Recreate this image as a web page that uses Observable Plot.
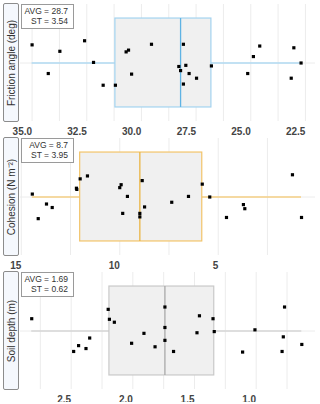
<!DOCTYPE html>
<html><head><meta charset="utf-8">
<script src="https://cdn.jsdelivr.net/npm/d3@7"></script>
<script src="https://cdn.jsdelivr.net/npm/@observablehq/plot@0.6"></script>
<style>
body{margin:0;background:#fff;font-family:"Liberation Sans",Arial,sans-serif;}
.panel{position:relative;width:320px;height:134px;}
.panel svg{display:block;}
.ylab{position:absolute;left:3px;top:3px;width:16px;height:119px;border:1px solid #8c8c8c;border-radius:2px;background:#f5f8fd;box-sizing:border-box;}
.ylab span{position:absolute;left:50%;top:50%;transform:translate(-50%,-50%) rotate(-90deg);white-space:nowrap;font-size:10px;color:#333;}
.stats{position:absolute;left:21px;top:4px;width:53px;height:25px;border:1px solid #9a9a9a;background:#fff;box-sizing:border-box;font-size:8.5px;color:#333;text-align:right;padding:2px 5px 0 0;line-height:9.5px;}
</style></head><body><div id="root"></div>
<script>
// ---- Friction angle (deg)
const frictionValues = [35.00,34.26,33.73,32.60,32.19,31.75,31.19,30.70,30.59,30.45,29.54,28.29,28.21,28.08,28.08,27.97,27.82,27.48,26.80,25.14,24.88,24.59,23.15,23.03,22.70];
const frictionJitter = [-0.31,0.18,-0.20,-0.38,-0.01,0.38,0.38,-0.19,-0.22,0.19,-0.32,0.06,0.13,-0.32,0.36,0.04,0.18,0.26,0.05,0.18,-0.11,-0.29,0.26,-0.26,0.00];
const frictionTicks = [35, 32.5, 30, 27.5, 25, 22.5];
const frictionGrid = [35, 33.75, 32.5, 31.25, 30, 28.75, 27.5, 26.25, 25, 23.75, 22.5];
const frictionDomain = [35.53, 22.04];
const frictionStats = ["AVG = 28.7", "ST = 3.54"];

// ---- Cohesion (N m-2)
const cohesionValues = [14.44,14.14,13.72,13.43,12.20,12.18,12.01,11.64,10.00,9.93,9.85,9.61,8.98,8.98,8.86,8.74,7.36,6.51,5.81,5.43,4.58,3.72,3.65,1.23,0.77];
const cohesionJitter = [-0.05,0.37,0.12,0.18,-0.15,-0.13,-0.31,-0.36,-0.16,-0.21,0.28,-0.01,0.28,0.34,-0.28,0.17,0.09,-0.01,-0.22,0.00,0.35,0.13,0.20,-0.38,0.35];
const cohesionTicks = [15, 10, 5];
const cohesionGrid = [15, 12.5, 10, 7.5, 5, 2.5];
const cohesionDomain = [15.04, 0.06];
const cohesionStats = ["AVG = 8.7", "ST = 3.95"];

// ---- Soil depth (m)
const depthValues = [2.82,2.48,2.44,2.38,2.35,2.20,2.19,2.15,2.01,1.91,1.82,1.74,1.74,1.74,1.67,1.48,1.46,1.35,1.34,1.11,1.01,0.79,0.78,0.77,0.63];
const depthJitter = [-0.21,0.35,0.25,0.30,0.12,-0.37,-0.20,-0.15,0.21,0.04,0.27,-0.41,-0.06,0.16,0.35,0.03,-0.26,-0.21,0.01,0.36,-0.02,0.35,0.10,-0.41,0.23];
const depthTicks = [2.5, 2.0, 1.5, 1.0];
const depthGrid = [2.75, 2.5, 2.25, 2.0, 1.75, 1.5, 1.25, 1.0, 0.75];
const depthDomain = [2.911, 0.519];
const depthStats = ["AVG = 1.69", "ST = 0.62"];

const panels = [
  {title: "Friction angle (deg)", values: frictionValues, jitter: frictionJitter, ticks: frictionTicks, grid: frictionGrid, domain: frictionDomain, stats: frictionStats, fmt: d3.format(".1f"), box: "#a3d3ef", median: "#5fb3e4", whisker: "#b0daf2"},
  {title: "Cohesion (N m\u207B\u00B2)", values: cohesionValues, jitter: cohesionJitter, ticks: cohesionTicks, grid: cohesionGrid, domain: cohesionDomain, stats: cohesionStats, fmt: d3.format("d"), box: "#f2c46a", median: "#ebb645", whisker: "#f5cf84"},
  {title: "Soil depth (m)", values: depthValues, jitter: depthJitter, ticks: depthTicks, grid: depthGrid, domain: depthDomain, stats: depthStats, fmt: d3.format(".1f"), box: "#c9c9c9", median: "#a8a8a8", whisker: "#d6d6d6"}
];

const BOX_HALF = 0.76;
const root = document.getElementById("root");

for (const p of panels) {
  const pts = p.values.map((v, i) => ({v, j: p.jitter[i]}));
  const s = {
    q1: d3.quantile(p.values, 0.25),
    med: d3.quantile(p.values, 0.5),
    q3: d3.quantile(p.values, 0.75),
    lo: d3.min(p.values),
    hi: d3.max(p.values)
  };
  const chart = Plot.plot({
    width: 320, height: 134,
    marginLeft: 20, marginRight: 5, marginTop: 4, marginBottom: 13,
    style: {fontFamily: "Liberation Sans, Arial, sans-serif", fontSize: "10px", overflow: "visible", background: "transparent"},
    x: {domain: p.domain},
    y: {domain: [-1, 1], reverse: true, axis: null},
    marks: [
      Plot.ruleX(p.grid, {stroke: "#ececec", strokeWidth: 1}),
      Plot.ruleY([0], {stroke: "#ececec"}),
      Plot.ruleY([s], {y: () => 0, x1: "lo", x2: "hi", stroke: p.whisker, strokeWidth: 1.3}),
      Plot.rect([s], {x1: "q3", x2: "q1", y1: () => -BOX_HALF, y2: () => BOX_HALF, fill: "#f0f0f0", stroke: p.box, strokeWidth: 1.2}),
      Plot.ruleX([s], {x: "med", y1: () => -BOX_HALF, y2: () => BOX_HALF, stroke: p.median, strokeWidth: 1.3}),
      Plot.dot(pts, {x: "v", y: "j", symbol: "square", r: 1.8, fill: "#000", stroke: "none"}),
      Plot.axisX(p.ticks, {tickSize: 0, tickPadding: 6, textAnchor: "end", fontWeight: "bold", fill: "#444", fontSize: 10, tickFormat: p.fmt})
    ]
  });
  const div = document.createElement("div");
  div.className = "panel";
  div.appendChild(chart);
  const yl = document.createElement("div");
  yl.className = "ylab";
  const sp = document.createElement("span");
  sp.textContent = p.title;
  yl.appendChild(sp);
  div.appendChild(yl);
  const st = document.createElement("div");
  st.className = "stats";
  st.innerHTML = p.stats.join("<br>");
  div.appendChild(st);
  root.appendChild(div);
}
</script>
</body></html>
